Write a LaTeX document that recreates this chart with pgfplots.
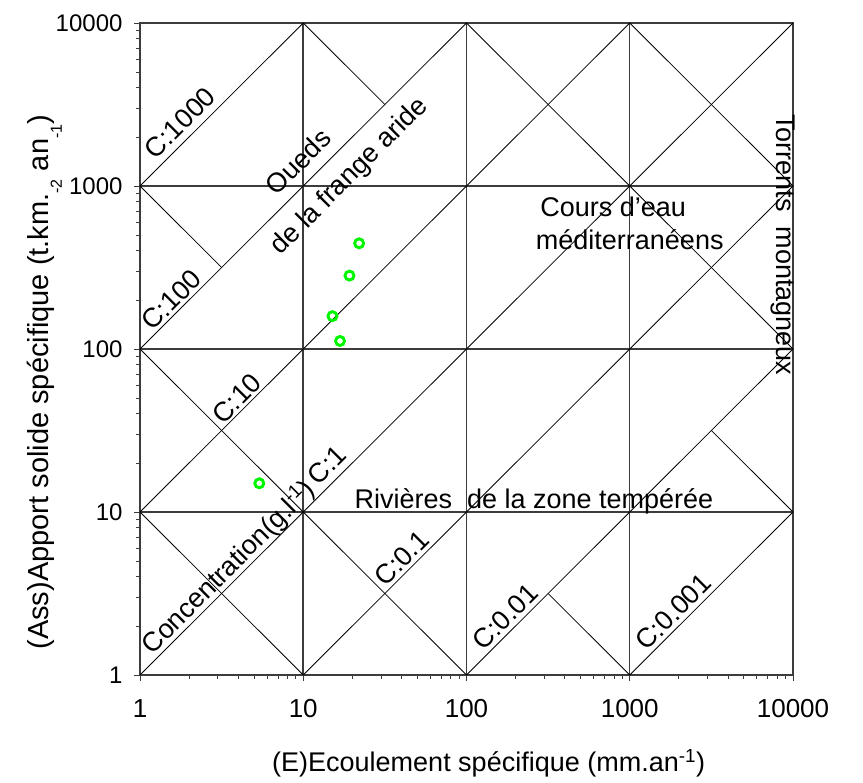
\documentclass[border=0pt]{standalone}
\usepackage{fontspec}
\setmainfont{Liberation Sans}
\usepackage{pgfplots}
\pgfplotsset{compat=1.18}
\newcommand\ann{\fontsize{27}{27}\selectfont}
\definecolor{gridc}{RGB}{60,60,60}
\definecolor{mk}{RGB}{0,245,0}
\begin{document}
\begin{tikzpicture}
\useasboundingbox (-140pt,-108pt) rectangle (723pt,675pt);
\begin{axis}[
  at={(0pt,0pt)}, anchor=south west,
  scale only axis, width=653pt, height=652pt,
  xmode=log, ymode=log,
  xmin=1, xmax=10000, ymin=1, ymax=10000,
  xtick={1,10,100,1000,10000}, xticklabels={1,10,100,1000,10000},
  ytick={1,10,100,1000,10000}, yticklabels={1,10,100,1000,10000},
  minor xtick={2,3,4,5,6,7,8,9,20,30,40,50,60,70,80,90,200,300,400,500,600,700,800,900,2000,3000,4000,5000,6000,7000,8000,9000},
  minor ytick={2,3,4,5,6,7,8,9,20,30,40,50,60,70,80,90,200,300,400,500,600,700,800,900,2000,3000,4000,5000,6000,7000,8000,9000},
  tick align=outside, xtick pos=bottom, ytick pos=left,
  major tick length=6pt, minor tick length=4pt,
  tick style={gridc, line width=0.8pt},
  axis line style={gridc, line width=1.5pt},
  grid=major, major grid style={gridc, line width=1.5pt},
  xticklabel style={font=\fontsize{26}{26}\selectfont, yshift=-15pt},
  yticklabel style={font=\fontsize{24}{24}\selectfont, xshift=-8pt},
  xlabel={(E)Ecoulement spécifique (mm.an\textsuperscript{-1})},
  ylabel={(Ass)Apport solide spécifique (t.km.\raisebox{-0.45em}{\fontsize{16}{16}\selectfont -2} an\raisebox{-0.45em}{\fontsize{16}{16}\selectfont -1})},
  xlabel style={font=\fontsize{27}{27}\selectfont, at={(axis description cs:0.534,-0.135)}, anchor=center},
  ylabel style={font=\fontsize{29}{29}\selectfont, at={(axis description cs:-0.146,0.449)}, anchor=center, rotate=0},
  clip=false,
]
% concentration lines (slope +1)
\addplot[black, line width=0.8pt] coordinates {(1,1000) (10,10000)};
\addplot[black, line width=0.8pt] coordinates {(1,100) (100,10000)};
\addplot[black, line width=0.8pt] coordinates {(1,10) (1000,10000)};
\addplot[black, line width=0.8pt] coordinates {(1,1) (10000,10000)};
\addplot[black, line width=0.8pt] coordinates {(10,1) (10000,1000)};
\addplot[black, line width=0.8pt] coordinates {(100,1) (10000,100)};
\addplot[black, line width=0.8pt] coordinates {(1000,1) (10000,10)};
% slope -1 segments
\addplot[black, line width=0.8pt] coordinates {(1,10) (10,1)};
\addplot[black, line width=0.8pt] coordinates {(1,100) (100,1)};
\addplot[black, line width=0.8pt] coordinates {(1,1000) (3.1623,316.23)};
\addplot[black, line width=0.8pt] coordinates {(316.23,3.1623) (1000,1)};
\addplot[black, line width=0.8pt] coordinates {(10,10000) (31.623,3162.3)};
\addplot[black, line width=0.8pt] coordinates {(3162.3,31.623) (10000,10)};
\addplot[black, line width=0.8pt] coordinates {(100,10000) (10000,100)};
\addplot[black, line width=0.8pt] coordinates {(1000,10000) (10000,1000)};
% data points
\addplot[only marks, mark=o, mark size=4.5pt, mark options={draw=mk, line width=2.9pt}] coordinates {
(22.0,445) (19.2,282) (15.1,159) (16.8,112) (5.38,15.0)};
% annotations
\node[rotate=45, font=\ann] at (axis cs:1.76,2438) {C:1000};
\node[rotate=45, font=\ann] at (axis cs:9.31,1409) {Oueds};
\node[rotate=45, font=\ann] at (axis cs:19.3,1140) {de la frange aride};
\node[rotate=45, font=\ann] at (axis cs:1.56,200) {C:100};
\node[font=\ann] at (axis cs:791,746) {Cours d'eau};
\node[font=\ann] at (axis cs:1000,467) {méditerranéens};
\node[rotate=-90, font=\ann] at (axis cs:8650,435) {Torrents\ \ montagneux};
\node[rotate=45, font=\ann] at (axis cs:3.91,49.8) {C:10};
\node[rotate=45, font=\ann] at (axis cs:13.9,19.4) {C:1};
\node[rotate=45, font=\ann] at (axis cs:3.48,4.55) {Concentration(g.l\textsuperscript{-1})};
\node[font=\ann] at (axis cs:259,11.56) {Rivières\ \ de la zone tempérée};
\node[rotate=45, font=\ann] at (axis cs:40,5.2) {C:0.1};
\node[rotate=45, font=\ann] at (axis cs:172,2.28) {C:0.01};
\node[rotate=45, font=\ann] at (axis cs:1845,2.44) {C:0.001};
\end{axis}
\end{tikzpicture}
\end{document}
